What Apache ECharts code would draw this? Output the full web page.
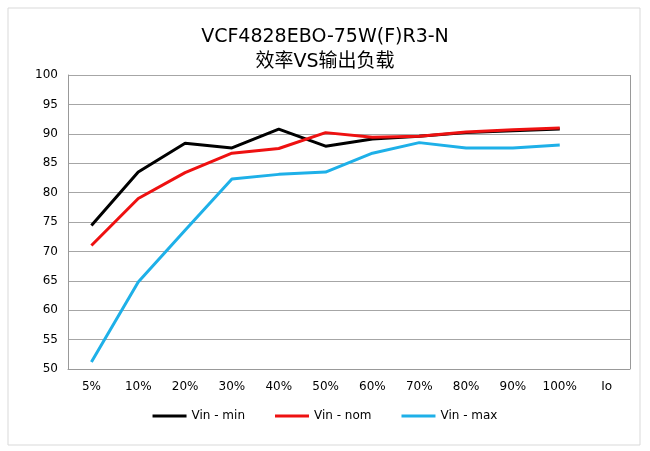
<!DOCTYPE html>
<html>
<head>
<meta charset="utf-8">
<script src="https://cdn.jsdelivr.net/npm/echarts@6/dist/echarts.min.js"></script>
<style>
  html, body { margin: 0; padding: 0; background: #fff; }
  #main { width: 650px; height: 451px; }
</style>
</head>
<body>
<div id="main"></div>
<script>
// 横轴类别（输出负载）
const categories = ['5%', '10%', '20%', '30%', '40%', '50%', '60%', '70%', '80%', '90%', '100%', 'Io'];

// 各输入电压下的效率
const vinMin = [74.4, 83.5, 88.4, 87.6, 90.8, 87.9, 89.1, 89.6, 90.2, 90.5, 90.8];
const vinNom = [71.0, 79.0, 83.4, 86.7, 87.5, 90.2, 89.4, 89.6, 90.3, 90.7, 91.0];
const vinMax = [51.2, 64.8, 73.6, 82.3, 83.1, 83.5, 86.7, 88.5, 87.6, 87.6, 88.1];

const seriesNames = ['Vin - min', 'Vin - nom', 'Vin - max'];
const seriesColors = ['#000000', '#ee1111', '#1eb0e8'];

var myChart = echarts.init(document.getElementById('main'));

function makeLine(name, data, color) {
  return {
    name: name,
    type: 'line',
    data: data,
    symbol: 'none',
    smooth: false,
    lineStyle: { color: color, width: 3 },
    itemStyle: { color: color }
  };
}

const option = {
  backgroundColor: '#fff',
  textStyle: { fontFamily: 'DejaVu Sans, sans-serif' },
  graphic: [{
    type: 'rect',
    shape: { x: 8, y: 8, width: 632, height: 437 },
    style: { fill: 'none', stroke: '#d9d9d9', lineWidth: 1 }
  }],
  title: {
    text: 'VCF4828EBO-75W(F)R3-N\n效率VS输出负载',
    left: 'center',
    top: 20,
    textStyle: {
      fontSize: 19,
      fontWeight: 'normal',
      color: '#000',
      lineHeight: 25,
      fontFamily: 'DejaVu Sans, Noto Sans CJK SC, sans-serif'
    }
  },
  legend: {
    bottom: 24,
    left: 'center',
    itemWidth: 34,
    itemHeight: 3,
    itemGap: 30,
    icon: 'rect',
    textStyle: { fontSize: 12, color: '#000' },
    data: seriesNames
  },
  grid: { left: 68, right: 20, top: 75, bottom: 82 },
  xAxis: {
    type: 'category',
    data: categories,
    boundaryGap: true,
    axisLine: { show: true, lineStyle: { color: '#999' } },
    axisTick: { show: false },
    axisLabel: { color: '#000', fontSize: 12, margin: 12 },
    splitLine: { show: false }
  },
  yAxis: {
    type: 'value',
    min: 50,
    max: 100,
    interval: 5,
    axisLine: { show: true, lineStyle: { color: '#999' } },
    axisTick: { show: false },
    axisLabel: { color: '#000', fontSize: 12, margin: 10 },
    splitLine: { show: true, lineStyle: { color: '#a6a6a6', width: 1 } }
  },
  series: [
    makeLine(seriesNames[0], vinMin, seriesColors[0]),
    makeLine(seriesNames[1], vinNom, seriesColors[1]),
    makeLine(seriesNames[2], vinMax, seriesColors[2]),
    {
      // 绘图区右边框
      type: 'line',
      data: [],
      markLine: {
        silent: true,
        symbol: 'none',
        label: { show: false },
        lineStyle: { color: '#999', type: 'solid', width: 1 },
        data: [[{ xAxis: 'Io', yAxis: 50, x: 630 }, { xAxis: 'Io', yAxis: 100, x: 630 }]]
      }
    }
  ]
};

myChart.setOption(option);
</script>
</body>
</html>
